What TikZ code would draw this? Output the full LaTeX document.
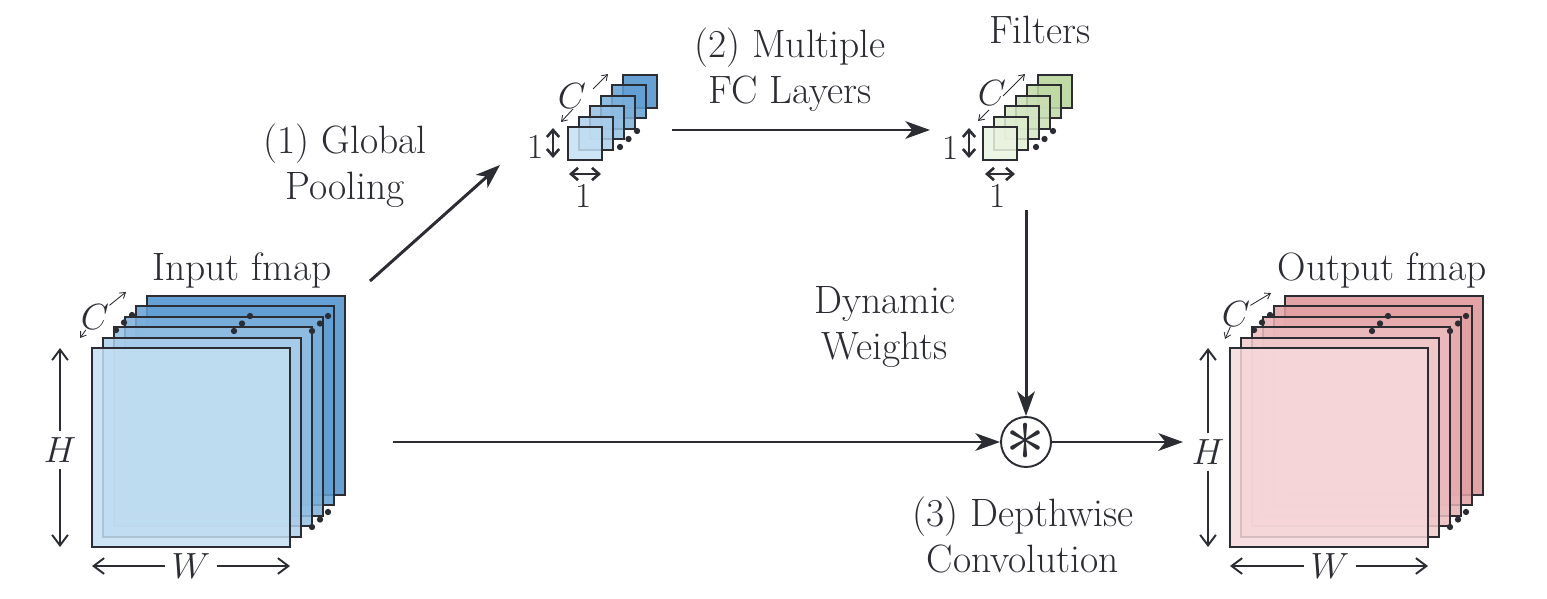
\documentclass[tikz,border=0pt]{standalone}
\usetikzlibrary{arrows.meta,positioning}

\definecolor{ink}{HTML}{2B2D33}
\definecolor{inpfront}{HTML}{C3DFF2}
\definecolor{inpback}{HTML}{4A90CD}
\definecolor{filfront}{HTML}{EAF3E0}
\definecolor{filback}{HTML}{B5D497}
\definecolor{outfront}{HTML}{F6D8DA}
\definecolor{outback}{HTML}{DE9295}
\newcommand\lblfont{\fontsize{22.5}{26}\selectfont}
\newcommand\symfont{\fontsize{20}{24}\selectfont}

\begin{document}
\begin{tikzpicture}[x=0.02cm, y=-0.02cm,
    every node/.style={font=\symfont, text=ink},
    lbl/.style={font=\lblfont, align=center},
    layer/.style={draw=ink, line width=1.1pt, fill opacity=0.85},
    flow/.style={draw=ink, line width=1.7pt, -{Stealth[length=14pt,width=10pt,inset=4pt]}},
    dim/.style={draw=ink, line width=1.1pt, -{Straight Barb[length=6pt,width=9pt]}},
    unit/.style={draw=ink, line width=1.5pt, {Straight Barb[length=4pt,width=7pt]}-{Straight Barb[length=4pt,width=7pt]}},
    chan/.style={draw=ink, line width=0.5pt, -{Straight Barb[length=3pt,width=4pt]}}]
    \useasboundingbox (0,0) rectangle (1547,598);

    % input fmap
    \foreach \i in {5,4,...,0} {
        \pgfmathtruncatemacro\p{100-20*\i}
        \draw[layer, fill=inpfront!\p!inpback] (92+11*\i,348-10.4*\i) rectangle +(198,199);
    }
    \foreach \dx/\dy in {24/-18,142/-17,220/-17,220/179}
        \foreach \k in {0,1,2}
            \fill[ink] (92+\dx+8*\k,348+\dy-7.5*\k) circle (1.8pt);
    \coordinate (inp-tl) at (92,348);
    \coordinate (inp-bl) at (92,547);
    \coordinate (inp-br) at (290,547);
    \node[lbl] (inp-txt) at (242,270) {Input fmap};
    \node (inp-H) at (60,450) {$H$};
    \draw[dim] (inp-H) -- (inp-H |- inp-tl);
    \draw[dim] (inp-H) -- (inp-H |- inp-bl);
    \node (inp-W) at (191,566) {$W$};
    \draw[dim] (inp-W) -- (inp-W -| inp-bl);
    \draw[dim] (inp-W) -- (inp-W -| inp-br);
    \node[inner sep=0] (inp-C) at (95,317) {$C$};
    \coordinate (inp-c0) at (80,338);
    \coordinate (inp-c1) at (126,292);
    \draw[chan] (inp-C) -- (inp-c0);
    \draw[chan] (inp-C) -- (inp-c1);

    % pooled vector
    \foreach \i in {5,4,...,0} {
        \pgfmathtruncatemacro\p{100-20*\i}
        \draw[layer, fill=inpfront!\p!inpback] (568+11*\i,127-10.4*\i) rectangle +(34,33);
    }
    \foreach \k in {0,1,2}
        \fill[ink] (620+8.5*\k,147-8*\k) circle (1.8pt);
    \node (pool-h) at (536,147) {1};
    \coordinate (pool-ht) at (553,128);
    \coordinate (pool-hb) at (553,158);
    \draw[unit] (pool-ht) -- (pool-hb);
    \node (pool-w) at (584,196) {1};
    \coordinate (pool-wl) at (569,174);
    \coordinate (pool-wr) at (601,174);
    \draw[unit] (pool-wl) -- (pool-wr);
    \node (pool-C) at (572,96) {$C$};
    \coordinate (pool-c0s) at (573,109);
    \coordinate (pool-c0) at (561,122);
    \coordinate (pool-c1s) at (593,89);
    \coordinate (pool-c1) at (608,74);
    \draw[chan] (pool-c0s) -- (pool-c0);
    \draw[chan] (pool-c1s) -- (pool-c1);

    % filters
    \foreach \i in {5,4,...,0} {
        \pgfmathtruncatemacro\p{100-20*\i}
        \draw[layer, fill=filfront!\p!filback] (983+11*\i,127-10.4*\i) rectangle +(34,33);
    }
    \foreach \k in {0,1,2}
        \fill[ink] (1036+8.5*\k,147-8*\k) circle (1.8pt);
    \node[lbl] (fil-txt) at (1040,30) {Filters};
    \node (fil-h) at (951,148) {1};
    \coordinate (fil-ht) at (969,128);
    \coordinate (fil-hb) at (969,158);
    \draw[unit] (fil-ht) -- (fil-hb);
    \node (fil-w) at (998,196) {1};
    \coordinate (fil-wl) at (985,174);
    \coordinate (fil-wr) at (1015,174);
    \draw[unit] (fil-wl) -- (fil-wr);
    \node (fil-C) at (992,93) {$C$};
    \coordinate (fil-c0s) at (989,110);
    \coordinate (fil-c0) at (978,121);
    \coordinate (fil-c1s) at (1003,96);
    \coordinate (fil-c1) at (1025,74);
    \draw[chan] (fil-c0s) -- (fil-c0);
    \draw[chan] (fil-c1s) -- (fil-c1);

    % output fmap
    \foreach \i in {5,4,...,0} {
        \pgfmathtruncatemacro\p{100-20*\i}
        \draw[layer, fill=outfront!\p!outback] (1230+11*\i,348-10.4*\i) rectangle +(198,199);
    }
    \foreach \dx/\dy in {24/-18,142/-17,220/-17,220/179}
        \foreach \k in {0,1,2}
            \fill[ink] (1230+\dx+8*\k,348+\dy-7.5*\k) circle (1.8pt);
    \coordinate (out-tl) at (1230,348);
    \coordinate (out-bl) at (1230,547);
    \coordinate (out-br) at (1428,547);
    \node[lbl] (out-txt) at (1382,270) {Output fmap};
    \node (out-H) at (1208,452) {$H$};
    \draw[dim] (out-H) -- (out-H |- out-tl);
    \draw[dim] (out-H) -- (out-H |- out-bl);
    \node (out-W) at (1330,566) {$W$};
    \draw[dim] (out-W) -- (out-W -| out-bl);
    \draw[dim] (out-W) -- (out-W -| out-br);
    \node[inner sep=0] (out-C) at (1236,314) {$C$};
    \coordinate (out-c0) at (1225,339);
    \coordinate (out-c1) at (1271,293);
    \draw[chan] (out-C) -- (out-c0);
    \draw[chan] (out-C) -- (out-c1);

    % operator and flow
    \node[draw=ink, circle, line width=1.1pt, minimum size=1cm, inner sep=0] (conv) at (1026,442)
        {\smash{\makebox[0pt]{\raisebox{-10.5pt}{\scalebox{2.2}{$\ast$}}}}};
    \node[lbl] (pool-txt) at (345,166) {(1) Global\\Pooling};
    \node[lbl] (fc-txt) at (790,70) {(2) Multiple\\FC Layers};
    \node[lbl] (dyn-txt) at (885,327) {Dynamic\\Weights};
    \node[lbl] (dw-txt) at (1023,535) {(3) Depthwise\\Convolution};
    \coordinate (pool-in) at (370,281);
    \coordinate (pool-tip) at (500,165);
    \coordinate (fc-in) at (672,130);
    \coordinate (fc-tip) at (930,130);
    \coordinate (fil-out) at (1026,210);
    \coordinate (inp-out) at (393,442);
    \coordinate (out-in) at (1183,442);
    \draw[flow] (pool-in) -- (pool-tip);
    \draw[flow] (fc-in) -- (fc-tip);
    \draw[flow] (fil-out) -- (conv);
    \draw[flow] (inp-out) -- (conv);
    \draw[flow] (conv) -- (out-in);
\end{tikzpicture}
\end{document}
